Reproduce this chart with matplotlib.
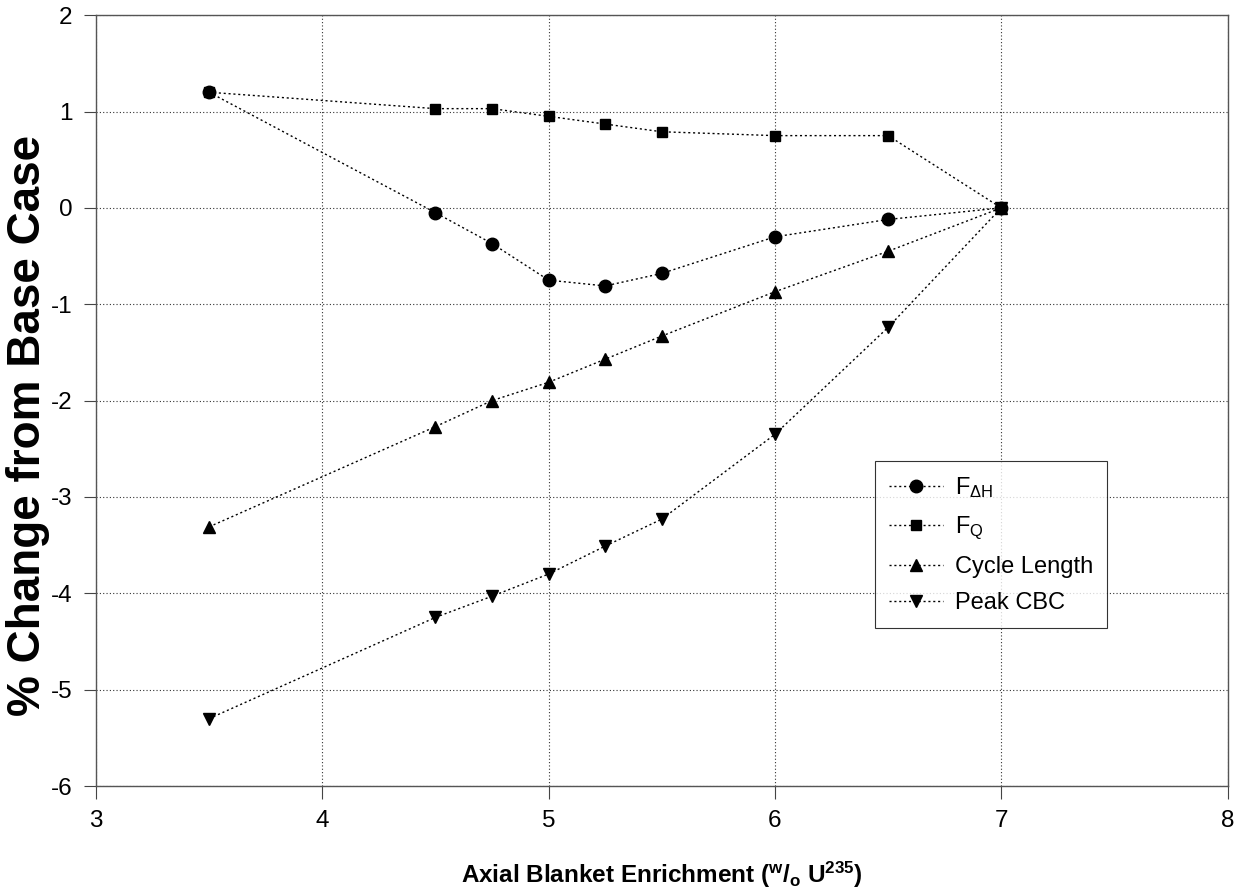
import matplotlib
matplotlib.use('Agg')
import matplotlib.pyplot as plt

plt.rcParams['font.family'] = ['Liberation Sans', 'DejaVu Sans']
plt.rcParams['mathtext.fontset'] = 'custom'
plt.rcParams['mathtext.rm'] = 'Liberation Sans'
plt.rcParams['mathtext.it'] = 'Liberation Sans'
plt.rcParams['mathtext.bf'] = 'Liberation Sans:bold'
plt.rcParams['mathtext.default'] = 'regular'
plt.rcParams['axes.unicode_minus'] = False

# enrichment values (w/o U235)
enrichment = [3.5, 4.5, 4.75, 5.0, 5.25, 5.5, 6.0, 6.5, 7.0]

# % change from base case
f_dh = [1.20, -0.05, -0.37, -0.75, -0.81, -0.68, -0.30, -0.12, 0.0]
f_q = [1.20, 1.03, 1.03, 0.95, 0.87, 0.79, 0.75, 0.75, 0.0]
cycle_length = [-3.31, -2.27, -2.00, -1.81, -1.57, -1.33, -0.87, -0.45, 0.0]
peak_cbc = [-5.30, -4.25, -4.03, -3.80, -3.51, -3.23, -2.35, -1.24, 0.0]

series = [
    (f_dh, 'o', 9, r'F$_{\Delta H}$', 5),
    (f_q, 's', 7.5, r'F$_{Q}$', 4),
    (cycle_length, '^', 8.5, 'Cycle Length', 3),
    (peak_cbc, 'v', 8.5, 'Peak CBC', 3),
]

fig = plt.figure(figsize=(12.4, 8.93), dpi=100)
ax = fig.add_axes([0.0774, 0.1198, 0.9126, 0.8632])

for vals, mk, ms, lab, z in series:
    ax.plot(enrichment, vals, linestyle=(0, (1.5, 2)), linewidth=1.0, color='black',
            marker=mk, markersize=ms, markerfacecolor='black', markeredgecolor='black',
            label=lab, zorder=z)

ax.set_xlim(3, 8)
ax.set_ylim(-6, 2)
ax.set_xticks(range(3, 9))
ax.set_yticks(range(-6, 3))
ax.grid(True, color='#333333', linestyle=(0, (1, 2)), linewidth=0.8)
ax.tick_params(direction='out', length=9, width=0.8, labelsize=17.5, pad=8,
               color='#444444')
for sp in ax.spines.values():
    sp.set_color('#555555')
    sp.set_linewidth(1.0)

ax.set_ylabel('% Change from Base Case', fontsize=33, fontweight='bold')
ax.yaxis.set_label_coords(-0.041, 0.468)
ax.set_xlabel(r'Axial Blanket Enrichment ($^{w}$/$_{o}$ U$^{235}$)',
              fontsize=17.5, fontweight='bold', labelpad=20)

leg = ax.legend(loc='upper left', bbox_to_anchor=(0.688, 0.4215), borderaxespad=0,
                fontsize=17, frameon=True, fancybox=False, edgecolor='black',
                handlelength=2.3, handletextpad=0.5, labelspacing=0.6,
                borderpad=0.6)
leg.get_frame().set_linewidth(0.8)
leg.set_zorder(10)

fig.savefig('out.png', dpi=100)
